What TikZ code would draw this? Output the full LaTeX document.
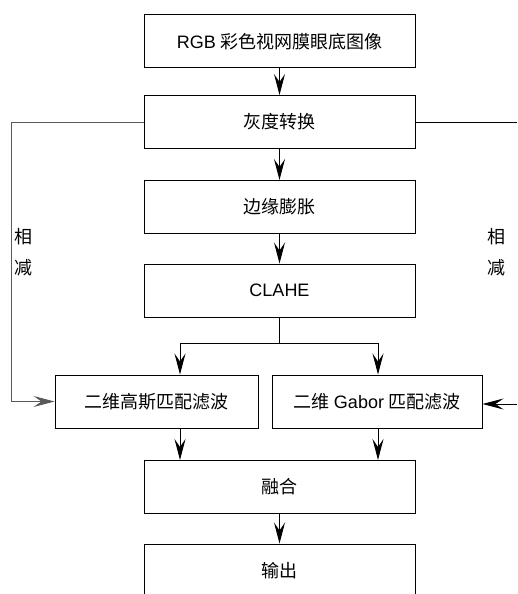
\documentclass[tikz,border=0pt]{standalone}
\usepackage{fontspec}
\setmainfont{Liberation Sans}
\newfontfamily\cjk{Noto Sans CJK SC}
\usetikzlibrary{arrows.meta,calc}
\begin{document}
\begin{tikzpicture}[x=1pt,y=-1pt,
  box/.style={draw,line width=1pt,minimum width=271pt,minimum height=53pt,inner sep=0pt,
    font=\fontsize{18}{20}\selectfont\cjk},
  arr/.style={line width=0.9pt,-{Stealth[length=21pt,width=11pt,inset=8pt]}},
  conn/.style={line width=0.9pt},
  lbl/.style={align=center,font=\fontsize{18}{31}\selectfont\cjk}]
\useasboundingbox (0,0) rectangle (517,594);
\clip (0,0) rectangle (517,594);
\node[box] (b1) at (279.5,41.5) {{\fontspec{Liberation Sans}RGB} 彩色视网膜眼底图像};
\node[box] (b2) at (279.5,122) {灰度转换};
\node[box] (b3) at (279.5,207) {边缘膨胀};
\node[box] (b4) at (279.5,290.5) {{\fontspec{Liberation Sans}CLAHE}};
\node[box,minimum width=203pt] (b5) at (156.5,401.5) {二维高斯匹配滤波};
\node[box,minimum width=210pt] (b6) at (377,401.5) {二维 {\fontspec{Liberation Sans}Gabor} 匹配滤波};
\node[box] (b7) at (279.5,487) {融合};
\node[box] (b8) at (279.5,570.5) {输出};
\draw[arr] (b1) -- (b2);
\draw[arr] (b2) -- (b3);
\draw[arr] (b3) -- (b4);
\coordinate (s) at (279.5,343);
\coordinate (g1) at (180,0);
\coordinate (g2) at (378,0);
\draw[conn] (b4.south) -- (s);
\draw[arr] (s) -| (b5.north -| g1);
\draw[arr] (s) -| (b6.north -| g2);
\draw[arr] (b5.south -| g1) -- (b7.north -| g1);
\draw[arr] (b6.south -| g2) -- (b7.north -| g2);
\draw[arr] (b7) -- (b8);
\coordinate (L) at (11,122);
\draw[arr,draw=black!65] (b2.west) -- (L) |- (b5.west);
\coordinate (R1) at (517,122);
\coordinate (R2) at (517,404);
\draw[conn] (b2.east) -- (R1);
\draw[arr] (R2) -- (R2 -| b6.east);
\node[lbl] (l1) at (23,252.5) {相\\减};
\node[lbl] (l2) at (496,252.5) {相\\减};
\end{tikzpicture}
\end{document}
